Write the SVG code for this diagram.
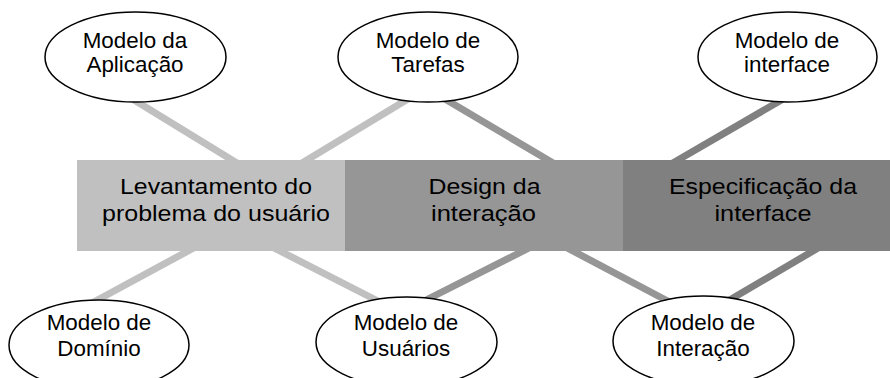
<svg xmlns="http://www.w3.org/2000/svg" width="890" height="378" viewBox="0 0 890 378">
  <style>
    .bg { fill: #ffffff; }
    .link { stroke-width: 7; fill: none; }
    .light { stroke: #c0c0c0; }
    .mid { stroke: #969696; }
    .dark { stroke: #808080; }
    .model ellipse { fill: #ffffff; stroke: #000000; stroke-width: 1.5; }
    .model text { font-family: "Liberation Sans", Arial, sans-serif; font-size: 22.4px; fill: #000000; text-anchor: middle; }
    .stage text { font-family: "Liberation Sans", Arial, sans-serif; font-size: 22.6px; fill: #000000; text-anchor: middle; }
  </style>
  <rect class="bg" x="0" y="0" width="890" height="378"/>

  <!-- connectors between models and stages -->
  <g id="connectors">
    <line class="link light" x1="119.4" y1="91" x2="251.6" y2="172"/>
    <line class="link light" x1="422.9" y1="90" x2="287.1" y2="172"/>
    <line class="link mid" x1="429.7" y1="90" x2="568.3" y2="172"/>
    <line class="link dark" x1="798.7" y1="90" x2="657.3" y2="172"/>
    <line class="link light" x1="210.2" y1="239" x2="80.8" y2="309"/>
    <line class="link light" x1="256.5" y1="239" x2="395.5" y2="310"/>
    <line class="link mid" x1="546.7" y1="239" x2="406.3" y2="310"/>
    <line class="link mid" x1="550.3" y1="239" x2="684.7" y2="310"/>
    <line class="link dark" x1="833.4" y1="239" x2="712.6" y2="310"/>
  </g>

  <!-- process stages -->
  <g id="stage-levantamento" class="stage">
    <rect x="77" y="160" width="268" height="91" fill="#c0c0c0"/>
    <text x="216" y="193.5" textLength="192" lengthAdjust="spacingAndGlyphs">Levantamento do</text>
    <text x="216" y="220.5" textLength="228" lengthAdjust="spacingAndGlyphs">problema do usuário</text>
  </g>
  <g id="stage-design" class="stage">
    <rect x="345" y="160" width="278" height="91" fill="#969696"/>
    <text x="484.5" y="193.5" textLength="112" lengthAdjust="spacingAndGlyphs">Design da</text>
    <text x="483.5" y="221" textLength="105" lengthAdjust="spacingAndGlyphs">interação</text>
  </g>
  <g id="stage-especificacao" class="stage">
    <rect x="623" y="160" width="267" height="91" fill="#808080"/>
    <text x="763" y="193.5" textLength="188" lengthAdjust="spacingAndGlyphs">Especificação da</text>
    <text x="763" y="221" textLength="97" lengthAdjust="spacingAndGlyphs">interface</text>
  </g>

  <!-- models -->
  <g id="model-aplicacao" class="model">
    <ellipse cx="135.5" cy="57" rx="90.5" ry="45"/>
    <text x="135" y="48.3">Modelo da</text>
    <text x="135" y="72.3">Aplicação</text>
  </g>
  <g id="model-tarefas" class="model">
    <ellipse cx="428" cy="57" rx="90" ry="45"/>
    <text x="428" y="48.3">Modelo de</text>
    <text x="428" y="72.3">Tarefas</text>
  </g>
  <g id="model-interface" class="model">
    <ellipse cx="787.5" cy="57" rx="89.5" ry="45"/>
    <text x="787" y="48.3">Modelo de</text>
    <text x="787" y="72.3">interface</text>
  </g>
  <g id="model-dominio" class="model">
    <ellipse cx="99" cy="345" rx="90" ry="45"/>
    <text x="99" y="330">Modelo de</text>
    <text x="99" y="355.5">Domínio</text>
  </g>
  <g id="model-usuarios" class="model">
    <ellipse cx="406.5" cy="342" rx="90.5" ry="45"/>
    <text x="406" y="330">Modelo de</text>
    <text x="406" y="355.5">Usuários</text>
  </g>
  <g id="model-interacao" class="model">
    <ellipse cx="703.5" cy="341" rx="90.5" ry="45"/>
    <text x="703" y="330">Modelo de</text>
    <text x="703" y="355.5">Interação</text>
  </g>
</svg>
